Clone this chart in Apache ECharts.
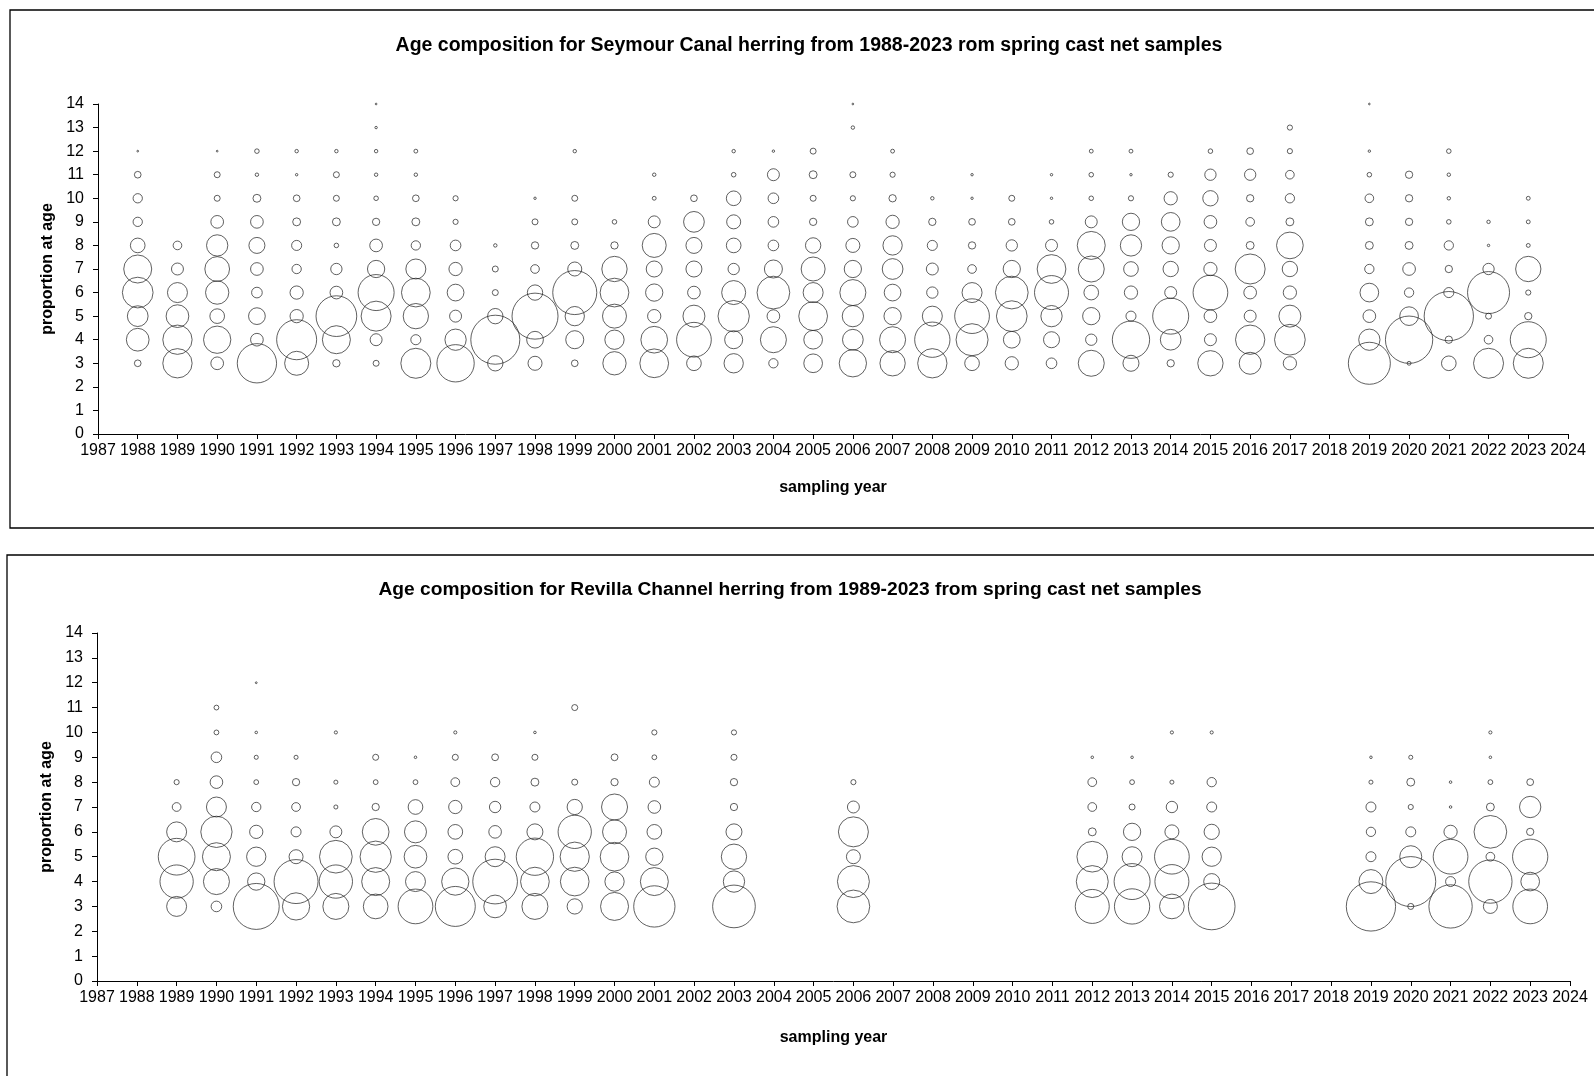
<!DOCTYPE html>
<html>
<head>
<meta charset="UTF-8">
<title>Herring age composition</title>
<script type="text/javascript" src="https://cdn.jsdelivr.net/npm/echarts@6/dist/echarts.min.js"></script>
</head>
<body style="margin:0;background:#fff;">
<div id="chart" style="width:1594px;height:1076px;"></div>
<script type="text/javascript">
// ages on the y axis, one entry per column of the prop arrays below
var ages = [3, 4, 5, 6, 7, 8, 9, 10, 11, 12, 13, 14];

// Seymour Canal: proportion at age 3..14 per sampling year
var seymourYears = [1988, 1989, 1990, 1991, 1992, 1993, 1994, 1995, 1996, 1997, 1998, 1999,
	2000, 2001, 2002, 2003, 2004, 2005, 2006, 2007, 2008, 2009, 2010, 2011, 2012, 2013,
	2014, 2015, 2016, 2017, 2019, 2020, 2021, 2022, 2023];
var seymourProps = [
	[.015,.173,.144,.316,.263,.072,.029,.029,.015,.001,0,0],
	[.288,.288,.173,.134,.048,.025,0,0,0,0,0,0],
	[.054,.250,.072,.182,.205,.152,.054,.012,.012,.001,0,0],
	[.518,.054,.094,.038,.054,.086,.054,.021,.004,.007,0,0],
	[.193,.537,.059,.059,.029,.034,.021,.015,.002,.004,0,0],
	[.018,.263,.556,.054,.043,.007,.021,.012,.012,.004,0,0],
	[.012,.048,.302,.435,.100,.054,.018,.007,.004,.004,.002,.001],
	[.302,.034,.215,.277,.134,.029,.021,.015,.004,.005,0,0],
	[.467,.152,.048,.094,.059,.038,.009,.009,0,0,0,0],
	[.079,.806,.079,.012,.012,.004,0,0,0,0,0,0],
	[.066,.094,.710,.079,.025,.018,.012,.002,0,0,0,0],
	[.015,.109,.125,.650,.066,.021,.012,.012,0,.004,0,0],
	[.182,.125,.193,.277,.215,.018,.007,0,0,0,0,0],
	[.277,.239,.059,.100,.086,.193,.048,.005,.004,0,0,0],
	[.072,.404,.162,.054,.086,.086,.144,.015,0,0,0,0],
	[.125,.109,.329,.193,.043,.072,.066,.072,.007,.004,0,0],
	[.029,.227,.054,.359,.109,.038,.038,.038,.048,.002,0,0],
	[.117,.117,.277,.134,.193,.079,.018,.012,.021,.012,0,0],
	[.250,.144,.152,.227,.100,.066,.038,.009,.012,0,.004,.001],
	[.215,.227,.100,.094,.144,.125,.059,.018,.009,.005,0,0],
	[.288,.418,.134,.043,.048,.034,.018,.004,0,0,0,0],
	[.072,.344,.404,.134,.025,.018,.015,.002,.002,0,0,0],
	[.059,.094,.316,.359,.100,.043,.015,.012,0,0,0,0],
	[.038,.086,.152,.388,.277,.048,.007,.002,.002,0,0,0],
	[.227,.043,.100,.072,.227,.263,.048,.007,.007,.005,0,0],
	[.086,.467,.034,.059,.072,.152,.100,.009,.002,.005,0,0],
	[.018,.144,.435,.048,.079,.100,.117,.059,.009,0,0,0],
	[.215,.048,.054,.404,.059,.048,.054,.079,.043,.007,0,0],
	[.162,.288,.048,.054,.302,.021,.025,.018,.043,.015,0,0],
	[.059,.316,.162,.059,.079,.239,.021,.029,.025,.009,.009,0],
	[.592,.152,.054,.117,.029,.021,.021,.025,.007,.002,0,.001],
	[.005,.751,.117,.029,.054,.021,.018,.018,.018,0,0,0],
	[.072,.018,.815,.034,.018,.029,.007,.004,.004,.007,0,0],
	[.302,.025,.012,.592,.043,.002,.004,0,0,0,0,0],
	[.302,.435,.018,.009,.215,.005,.005,.005,0,0,0,0]
];

// Revilla Channel
var revillaYears = [1989, 1990, 1991, 1992, 1993, 1994, 1995, 1996, 1997, 1998, 1999, 2000,
	2001, 2003, 2006, 2012, 2013, 2014, 2015, 2019, 2020, 2021, 2022, 2023];
var revillaProps = [
	[.120,.334,.406,.120,.023,.008,0,0,0,0,0,0],
	[.034,.204,.236,.295,.120,.048,.034,.007,.007,0,0,0],
	[.637,.090,.112,.053,.026,.007,.005,.002,0,.001,0,0],
	[.224,.583,.059,.030,.023,.016,.005,0,0,0,0,0],
	[.204,.334,.322,.043,.005,.005,0,.003,0,0,0,0],
	[.184,.236,.295,.215,.016,.007,.011,0,0,0,0,0],
	[.363,.120,.155,.146,.065,.007,.002,0,0,0,0,0],
	[.482,.224,.065,.065,.053,.023,.011,.003,0,0,0,0],
	[.155,.602,.120,.048,.039,.026,.014,0,0,0,0,0],
	[.204,.248,.419,.077,.030,.019,.011,.002,0,0,0,0],
	[.070,.248,.258,.334,.070,.011,0,0,.011,0,0,0],
	[.236,.112,.248,.173,.204,.016,.014,0,0,0,0,0],
	[.514,.236,.090,.065,.048,.030,.007,.008,0,0,0,0],
	[.549,.137,.193,.077,.016,.016,.011,.008,0,0,0,0],
	[.322,.308,.059,.271,.043,.008,0,0,0,0,0,0],
	[.348,.308,.284,.019,.023,.023,.002,0,0,0,0,0],
	[.375,.390,.120,.090,.011,.007,.002,0,0,0,0,0],
	[.184,.348,.363,.059,.039,.005,0,.003,0,0,0,0],
	[.657,.077,.112,.070,.030,.026,0,.003,0,0,0,0],
	[.732,.173,.030,.026,.030,.005,.002,0,0,0,0,0],
	[.011,.753,.146,.030,.008,.019,.005,0,0,0,0,0],
	[.565,.030,.363,.053,.002,.002,0,0,0,0,0,0],
	[.059,.565,.023,.322,.019,.007,.002,.003,0,0,0,0],
	[.363,.105,.375,.016,.137,.014,0,0,0,0,0,0]
];

function toPoints(years, props) {
	var out = [];
	for (var i = 0; i < years.length; i++) {
		for (var j = 0; j < ages.length; j++) {
			if (props[i][j] > 0) out.push([years[i], ages[j], props[i][j]]);
		}
	}
	return out;
}

var font = 'Liberation Sans, Arial, sans-serif';
var chart = echarts.init(document.getElementById('chart'));

function xAx(gi, gap) {
	return {
		gridIndex: gi, type: 'value', min: 1987, max: 2024, interval: 1,
		name: 'sampling year', nameLocation: 'middle', nameGap: gap,
		nameTextStyle: {fontFamily: font, fontWeight: 'bold', fontSize: 16, color: '#000'},
		axisLine: {lineStyle: {color: '#000', width: 1}},
		axisTick: {length: 5, lineStyle: {color: '#000'}},
		axisLabel: {fontFamily: font, fontSize: 16, color: '#000', margin: 9,
			formatter: function (v) { return String(v); }},
		splitLine: {show: false}
	};
}
function yAx(gi, gap) {
	return {
		gridIndex: gi, type: 'value', min: 0, max: 14, interval: 1,
		name: 'proportion at age', nameLocation: 'middle', nameGap: gap, nameRotate: 90,
		nameTextStyle: {fontFamily: font, fontWeight: 'bold', fontSize: 16, color: '#000'},
		axisLine: {show: true, lineStyle: {color: '#000', width: 1}},
		axisTick: {show: true, length: 5, lineStyle: {color: '#000'}},
		axisLabel: {fontFamily: font, fontSize: 16, color: '#000', margin: 14},
		splitLine: {show: false}
	};
}
function bubbles(gi, data, k) {
	return {
		type: 'scatter', xAxisIndex: gi, yAxisIndex: gi, data: data,
		symbol: 'circle',
		symbolSize: function (v) { return k * Math.sqrt(v[2]); },
		itemStyle: {color: 'rgba(0,0,0,0)', borderColor: '#222', borderWidth: 0.9},
		emphasis: {disabled: true}
	};
}

var option = {
	animation: false,
	backgroundColor: '#fff',
	title: [{
		text: 'Age composition for Seymour Canal herring from 1988-2023 rom spring cast net samples',
		left: 804, top: 31, textAlign: 'center',
		textStyle: {fontFamily: font, fontWeight: 'bold', fontSize: 19.5, color: '#000'}
	}, {
		text: 'Age composition for Revilla Channel herring from 1989-2023 from spring cast net samples',
		left: 785, top: 575, textAlign: 'center',
		textStyle: {fontFamily: font, fontWeight: 'bold', fontSize: 19.2, color: '#000'}
	}],
	graphic: [
		{type: 'rect', shape: {x: 10, y: 10, width: 1620, height: 518},
			style: {fill: 'none', stroke: '#000', lineWidth: 1.3}},
		{type: 'rect', shape: {x: 7, y: 555, width: 1620, height: 560},
			style: {fill: 'none', stroke: '#000', lineWidth: 1.3}}
	],
	grid: [
		{left: 98, top: 104, width: 1470, height: 330},
		{left: 97, top: 633, width: 1473, height: 348}
	],
	xAxis: [xAx(0, 46), xAx(1, 49)],
	yAxis: [yAx(0, 40), yAx(1, 42)],
	series: [
		bubbles(0, toPoints(seymourYears, seymourProps), 54.6),
		bubbles(1, toPoints(revillaYears, revillaProps), 57.6)
	]
};
chart.setOption(option);
</script>
</body>
</html>
